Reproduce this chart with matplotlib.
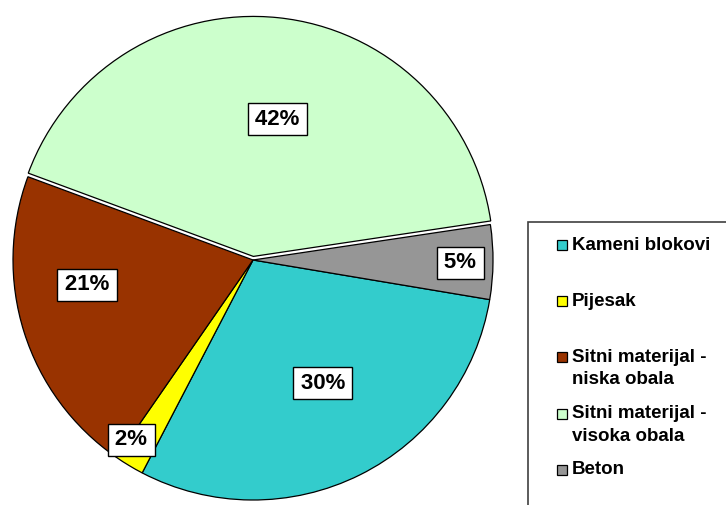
import numpy as np
import matplotlib.pyplot as plt
from matplotlib.patches import Rectangle

categories = ["Kameni blokovi", "Pijesak", "Sitni materijal -\nniska obala",
              "Sitni materijal -\nvisoka obala", "Beton"]
shares = [30, 2, 21, 42, 5]
colors = ["#33CCCC", "#FFFF00", "#993300", "#CCFFCC", "#969696"]
explode = [0, 0, 0, 0.015, 0]
# where each percentage label sits: distance from centre (fraction of radius)
# and a small turn away from the wedge's middle angle (degrees)
label_dist = [0.59, 0.905, 0.70, 0.58, 0.863]
label_turn = [3, -3, -9, -4, -0.3]

plt.rcParams['font.family'] = ['Liberation Sans', 'DejaVu Sans']

W, H = 726, 505
fig = plt.figure(figsize=(W / 100, H / 100), dpi=100)
ax = fig.add_axes([13 / W, 5 / H, 480 / W, 484.8 / H])

wedges, _ = ax.pie(shares, colors=colors, explode=explode, startangle=-9.5,
                   counterclock=False,
                   wedgeprops=dict(edgecolor='black', linewidth=0.9))
ax.set_xlim(-1, 1)
ax.set_ylim(-1, 1.02)
ax.set_aspect('auto')

# percentage labels in white boxes
for w, share, d, t in zip(wedges, shares, label_dist, label_turn):
    ang = np.deg2rad((w.theta1 + w.theta2) / 2 + t)
    cx, cy = w.center
    ax.text(cx + d * np.cos(ang), cy + d * np.sin(ang), f"\u200a{share}%\u200a",
            ha='center', va='center', fontsize=16, fontweight='bold',
            bbox=dict(boxstyle='square,pad=0.25', fc='white', ec='black', lw=1))


def fx(px):
    return px / W


def fy(py):
    # pixel row from the top -> figure fraction
    return 1 - py / H


# legend frame running off the right / bottom edge
fig.add_artist(Rectangle((fx(528), -0.05), 0.4, fy(222) + 0.05,
                         transform=fig.transFigure, fc='white',
                         ec='#404040', lw=1.2))

# legend entries, one slot each, marker level with the first text line
for i, (label, color) in enumerate(zip(categories, colors)):
    y0 = 245 + 56.2 * i
    fig.add_artist(Rectangle((fx(557), fy(y0 + 5)), 10 / W, 10 / H,
                             transform=fig.transFigure, fc=color,
                             ec='black', lw=0.9))
    for j, line in enumerate(label.split("\n")):
        fig.text(fx(572), fy(y0 + 22.5 * j), line, ha='left', va='center',
                 fontsize=13.5, fontweight='bold')

fig.savefig("out.png", dpi=100)
